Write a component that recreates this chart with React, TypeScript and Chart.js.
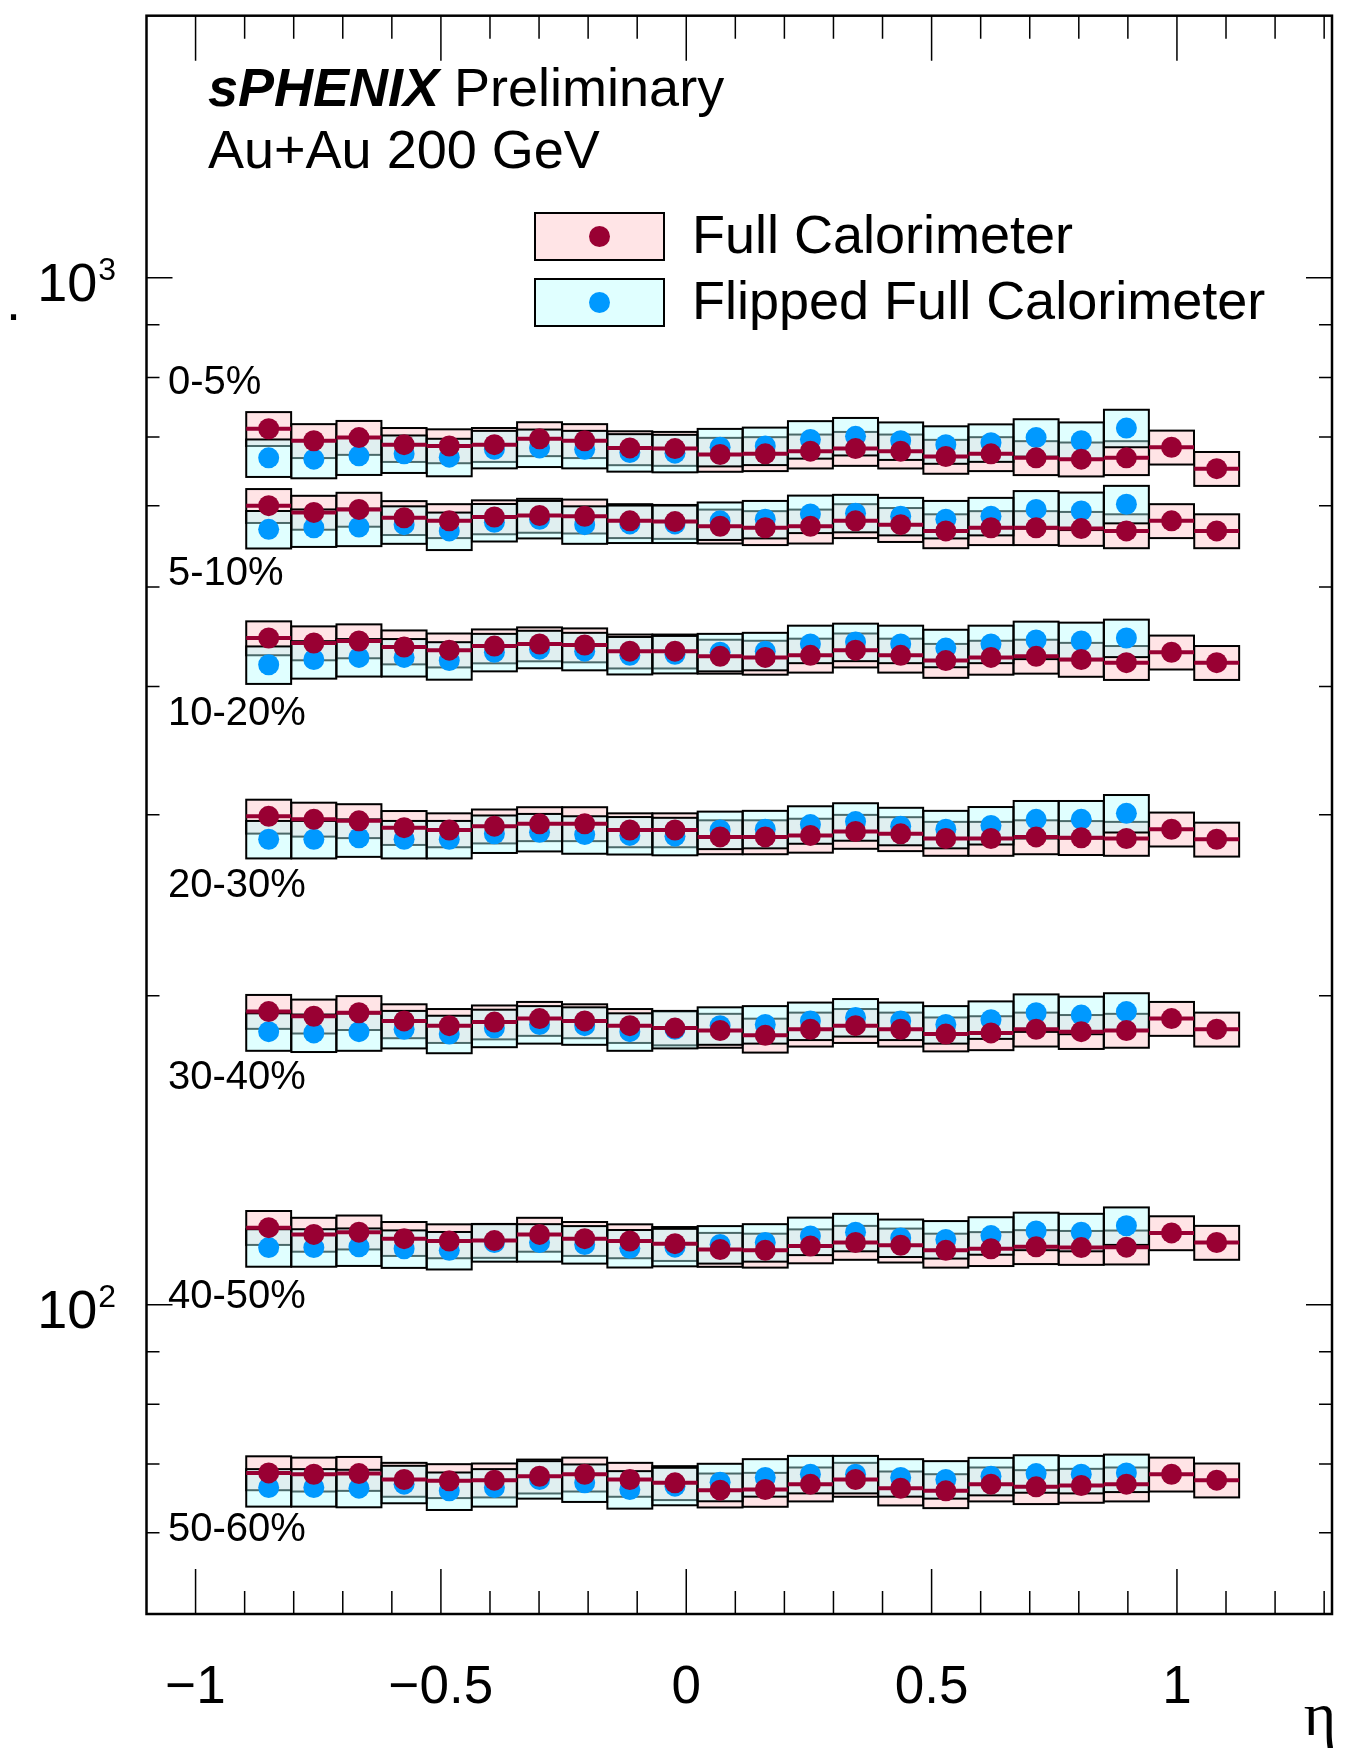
import React, { useEffect, useRef } from 'react';
import { Chart, registerables } from 'chart.js';

Chart.register(...registerables);

// ---------- data ----------
const etaCenters = [-0.851, -0.759, -0.667, -0.575, -0.483, -0.391, -0.299, -0.207, -0.115, -0.023, 0.069, 0.161, 0.253, 0.345, 0.437, 0.529, 0.621, 0.713, 0.805, 0.897, 0.989, 1.081];
const etaFlippedCenters = [-0.851, -0.759, -0.667, -0.575, -0.483, -0.391, -0.299, -0.207, -0.115, -0.023, 0.069, 0.161, 0.253, 0.345, 0.437, 0.529, 0.621, 0.713, 0.805, 0.897];
const etaBinWidth = 0.0915;

const centralityLabels = ['0-5%', '5-10%', '10-20%', '20-30%', '30-40%', '40-50%', '50-60%'];
const centralityLabelAnchorY = [790, 515, 376, 256, 166.4, 101.8, 60.3];

const full_0_5 = [713, 694, 699, 688, 686, 688, 697, 694, 683, 682, 673, 674, 678, 682, 678, 670, 674, 668, 666, 668, 684, 652];
const flip_0_5 = [668, 666, 671, 674, 669, 681, 683, 681, 676, 675, 684, 686, 696, 701, 694, 688, 691, 699, 694, 714];
const full_5_10 = [600, 591, 595, 584, 580, 585, 587, 586, 580, 579, 573, 571, 573, 580, 575, 567, 571, 571, 570, 567, 580, 567];
const flip_5_10 = [569, 571, 572, 575, 567, 578, 582, 575, 576, 576, 580, 582, 589, 590, 586, 582, 586, 595, 593, 602];
const full_10_20 = [446, 441, 443, 437, 434, 438, 440, 439, 433, 433, 428, 427, 429, 434, 429, 424, 427, 428, 425, 422, 432, 422];
const flip_10_20 = [420, 425, 427, 427, 424, 432, 435, 433, 429, 430, 432, 433, 440, 442, 440, 436, 440, 444, 443, 446];
const full_20_30 = [299, 297, 296, 291.5, 290, 292.5, 294, 294, 290, 290, 285.5, 285.5, 286.5, 289, 287.5, 284.5, 284.5, 285.5, 285, 284.5, 290.5, 284];
const flip_20_30 = [284, 284, 285, 284, 284, 287.5, 288.5, 287, 286.5, 286, 290, 290.5, 293.5, 295.5, 292.5, 290.5, 293, 297, 297, 301];
const full_30_40 = [193, 191, 192.5, 189, 187, 188.5, 190, 189, 187, 186, 185, 183, 185.5, 187, 185.5, 183.5, 184, 185.5, 184.5, 185, 190, 185.5];
const flip_30_40 = [184.5, 184, 184.5, 185.5, 183.5, 186, 187.5, 187, 184.5, 185.5, 187, 187.5, 189, 190.5, 189, 187.5, 189.5, 192.5, 191.5, 193];
const full_40_50 = [118.9, 117.1, 117.7, 116.0, 115.4, 115.5, 117.1, 116.0, 115.4, 114.7, 113.2, 113.0, 114.1, 115.0, 114.3, 113.0, 113.4, 113.9, 113.7, 113.8, 117.5, 115.0];
const flip_40_50 = [113.7, 113.7, 113.9, 113.4, 113.0, 115.0, 115.0, 114.5, 113.5, 113.8, 114.5, 115.0, 116.7, 117.7, 116.2, 115.8, 116.8, 118.0, 117.7, 119.4];
const full_50_60 = [68.6, 68.4, 68.5, 67.6, 67.4, 67.5, 68.1, 68.4, 67.6, 67.1, 66.0, 66.1, 66.9, 67.6, 66.3, 65.9, 66.9, 66.5, 66.7, 66.9, 68.4, 67.5];
const flip_50_60 = [66.4, 66.4, 66.3, 66.9, 65.9, 66.4, 67.6, 67.1, 66.1, 66.6, 67.2, 67.9, 68.4, 68.4, 67.9, 67.6, 68.1, 68.5, 68.4, 68.6];

const fullSeries = [full_0_5, full_5_10, full_10_20, full_20_30, full_30_40, full_40_50, full_50_60];
const flipSeries = [flip_0_5, flip_5_10, flip_10_20, flip_20_30, flip_30_40, flip_40_50, flip_50_60];

const fullSysFrac = 0.038;
const flipSysFrac = 0.042;

const xMajorTicks = [-1, -0.5, 0, 0.5, 1];
const xMinorTicks = [-0.9, -0.8, -0.7, -0.6, -0.4, -0.3, -0.2, -0.1, 0.1, 0.2, 0.3, 0.4, 0.6, 0.7, 0.8, 0.9, 1.1, 1.2, 1.3];
const xTickLabels = ['\u22121', '\u22120.5', '0', '0.5', '1'];
const yMajorTicks = [100, 1000];
const yMinorTicks = [60, 70, 80, 90, 200, 300, 400, 500, 600, 700, 800, 900];
const yTickBase = ['10', '10'];
const yTickExp = ['2', '3'];

const legendLabels = ['Full Calorimeter', 'Flipped Full Calorimeter'];

// ---------- styles ----------
const RED = 'rgb(153,0,51)';
const BLUE = 'rgb(0,153,255)';
const PINK = 'rgb(255,228,230)';
const CYAN_T = 'rgba(180,255,255,0.41)';
const CYAN = 'rgb(224,255,255)';
const FONT = '"Liberation Sans", Arial, Helvetica, sans-serif';
const MARKER_R = 10.5;

const sphenixPlugin = {
  id: 'sphenixDecor',
  beforeDatasetsDraw(chart: any) {
    const { ctx, chartArea: a, scales } = chart;
    const x = scales.x, y = scales.y;
    ctx.save();
    ctx.beginPath();
    ctx.rect(a.left, a.top, a.right - a.left, a.bottom - a.top);
    ctx.clip();
    ctx.lineWidth = 2;
    ctx.strokeStyle = '#000';
    fullSeries.forEach((series, c) => {
      series.forEach((v, i) => {
        const x0 = x.getPixelForValue(etaCenters[i] - etaBinWidth / 2);
        const x1 = x.getPixelForValue(etaCenters[i] + etaBinWidth / 2);
        const y0 = y.getPixelForValue(v * (1 + fullSysFrac));
        const y1 = y.getPixelForValue(v * (1 - fullSysFrac));
        ctx.fillStyle = PINK;
        ctx.fillRect(x0, y0, x1 - x0, y1 - y0);
        ctx.strokeRect(x0, y0, x1 - x0, y1 - y0);
      });
      flipSeries[c].forEach((v, i) => {
        const x0 = x.getPixelForValue(etaFlippedCenters[i] - etaBinWidth / 2);
        const x1 = x.getPixelForValue(etaFlippedCenters[i] + etaBinWidth / 2);
        const y0 = y.getPixelForValue(v * (1 + flipSysFrac));
        const y1 = y.getPixelForValue(v * (1 - flipSysFrac));
        ctx.fillStyle = CYAN_T;
        ctx.fillRect(x0, y0, x1 - x0, y1 - y0);
        ctx.strokeRect(x0, y0, x1 - x0, y1 - y0);
      });
    });
    ctx.restore();
  },
  beforeDatasetDraw(chart: any, args: any) {
    const ds = chart.data.datasets[args.index];
    if (ds._kind !== 'full') return;
    const { ctx, chartArea: a, scales } = chart;
    const x = scales.x, y = scales.y;
    ctx.save();
    ctx.beginPath();
    ctx.rect(a.left, a.top, a.right - a.left, a.bottom - a.top);
    ctx.clip();
    ctx.strokeStyle = RED;
    ctx.lineWidth = 4;
    fullSeries[ds._cls].forEach((v, i) => {
      const x0 = x.getPixelForValue(etaCenters[i] - etaBinWidth / 2);
      const x1 = x.getPixelForValue(etaCenters[i] + etaBinWidth / 2);
      const py = y.getPixelForValue(v);
      ctx.beginPath();
      ctx.moveTo(x0, py);
      ctx.lineTo(x1, py);
      ctx.stroke();
    });
    ctx.restore();
  },
  afterDraw(chart: any) {
    const { ctx, chartArea: a, scales } = chart;
    const x = scales.x, y = scales.y;
    ctx.save();
    // ticks
    ctx.strokeStyle = '#000';
    ctx.lineWidth = 1.5;
    const xt = (v: number, len: number) => {
      const px = x.getPixelForValue(v);
      ctx.beginPath();
      ctx.moveTo(px, a.bottom);
      ctx.lineTo(px, a.bottom - len);
      ctx.moveTo(px, a.top);
      ctx.lineTo(px, a.top + len);
      ctx.stroke();
    };
    xMajorTicks.forEach(v => xt(v, 45));
    xMinorTicks.forEach(v => xt(v, 23));
    const yt = (v: number, len: number) => {
      const py = y.getPixelForValue(v);
      ctx.beginPath();
      ctx.moveTo(a.left, py);
      ctx.lineTo(a.left + len, py);
      ctx.moveTo(a.right, py);
      ctx.lineTo(a.right - len, py);
      ctx.stroke();
    };
    yMajorTicks.forEach(v => yt(v, 26));
    yMinorTicks.forEach(v => yt(v, 13));
    // frame
    ctx.lineWidth = 2.5;
    ctx.strokeRect(a.left, a.top, a.right - a.left, a.bottom - a.top);

    ctx.fillStyle = '#000';
    // x tick labels
    ctx.font = `53px ${FONT}`;
    ctx.textAlign = 'center';
    ctx.textBaseline = 'alphabetic';
    xMajorTicks.forEach((v, i) => {
      ctx.fillText(xTickLabels[i], x.getPixelForValue(v), 1703);
    });
    // y tick labels
    yMajorTicks.forEach((v, i) => {
      const py = y.getPixelForValue(v);
      ctx.textAlign = 'right';
      ctx.font = `32px ${FONT}`;
      const ew = ctx.measureText(yTickExp[i]).width;
      ctx.fillText(yTickExp[i], 116, py + 2);
      ctx.font = `54px ${FONT}`;
      ctx.fillText(yTickBase[i], 116 - ew - 1, py + 23);
    });
    // axis title remnant
    ctx.textAlign = 'left';
    ctx.font = `54px ${FONT}`;
    ctx.fillText('.', 6, 320);
    // eta label
    ctx.textAlign = 'center';
    ctx.font = `62px "Liberation Serif", "DejaVu Serif", serif`;
    ctx.fillText('\u03B7', 1320, 1735);

    // centrality labels
    ctx.textAlign = 'left';
    ctx.textBaseline = 'middle';
    ctx.font = `40px ${FONT}`;
    centralityLabels.forEach((t, i) => {
      ctx.fillText(t, 168, y.getPixelForValue(centralityLabelAnchorY[i]));
    });

    // header text
    ctx.textBaseline = 'alphabetic';
    ctx.font = `italic bold 54px ${FONT}`;
    ctx.fillText('sPHENIX', 208, 106);
    const sw = ctx.measureText('sPHENIX').width;
    ctx.font = `54px ${FONT}`;
    ctx.fillText(' Preliminary', 208 + sw, 106);
    ctx.fillText('Au+Au 200 GeV', 208, 168);

    // legend
    const boxes = [
      { top: 213, fill: PINK, dot: RED },
      { top: 279, fill: CYAN, dot: BLUE },
    ];
    boxes.forEach((b, i) => {
      ctx.fillStyle = b.fill;
      ctx.fillRect(535, b.top, 129, 47);
      ctx.lineWidth = 2;
      ctx.strokeStyle = '#000';
      ctx.strokeRect(535, b.top, 129, 47);
      ctx.fillStyle = b.dot;
      ctx.beginPath();
      ctx.arc(599.5, b.top + 23.5, MARKER_R, 0, Math.PI * 2);
      ctx.fill();
      ctx.fillStyle = '#000';
      ctx.font = `54px ${FONT}`;
      ctx.textAlign = 'left';
      ctx.fillText(legendLabels[i], 692, b.top + 40);
    });
    ctx.restore();
  },
};

export default function App() {
  const canvasRef = useRef<HTMLCanvasElement | null>(null);

  useEffect(() => {
    const canvas = canvasRef.current;
    if (!canvas) return;
    const datasets: any[] = [];
    fullSeries.forEach((series, c) => {
      datasets.push({
        _kind: 'full',
        _cls: c,
        label: `Full Calorimeter ${centralityLabels[c]}`,
        data: series.map((v, i) => ({ x: etaCenters[i], y: v })),
        backgroundColor: RED,
        borderColor: RED,
        pointRadius: MARKER_R,
        pointHoverRadius: MARKER_R,
        pointBorderWidth: 0,
        showLine: false,
        order: 0,
      });
    });
    flipSeries.forEach((series, c) => {
      datasets.push({
        _kind: 'flip',
        _cls: c,
        label: `Flipped Full Calorimeter ${centralityLabels[c]}`,
        data: series.map((v, i) => ({ x: etaFlippedCenters[i], y: v })),
        backgroundColor: BLUE,
        borderColor: BLUE,
        pointRadius: MARKER_R,
        pointHoverRadius: MARKER_R,
        pointBorderWidth: 0,
        showLine: false,
        order: 1,
      });
    });

    const chart = new Chart(canvas, {
      type: 'scatter',
      data: { datasets },
      options: {
        animation: false,
        responsive: false,
        devicePixelRatio: 1,
        layout: { padding: { left: 146.5, right: 26, top: 15.7, bottom: 140 } },
        scales: {
          x: { type: 'linear', min: -1.1, max: 1.316, display: false },
          y: { type: 'logarithmic', min: 50, max: 1800, display: false },
        },
        plugins: { legend: { display: false }, tooltip: { enabled: false } },
        events: [],
      } as any,
      plugins: [sphenixPlugin as any],
    });
    return () => chart.destroy();
  }, []);

  return (
    <div style={{ position: 'absolute', left: 0, top: 0, width: 1358, height: 1754, background: '#fff' }}>
      <canvas ref={canvasRef} width={1358} height={1754} style={{ display: 'block' }} />
    </div>
  );
}
